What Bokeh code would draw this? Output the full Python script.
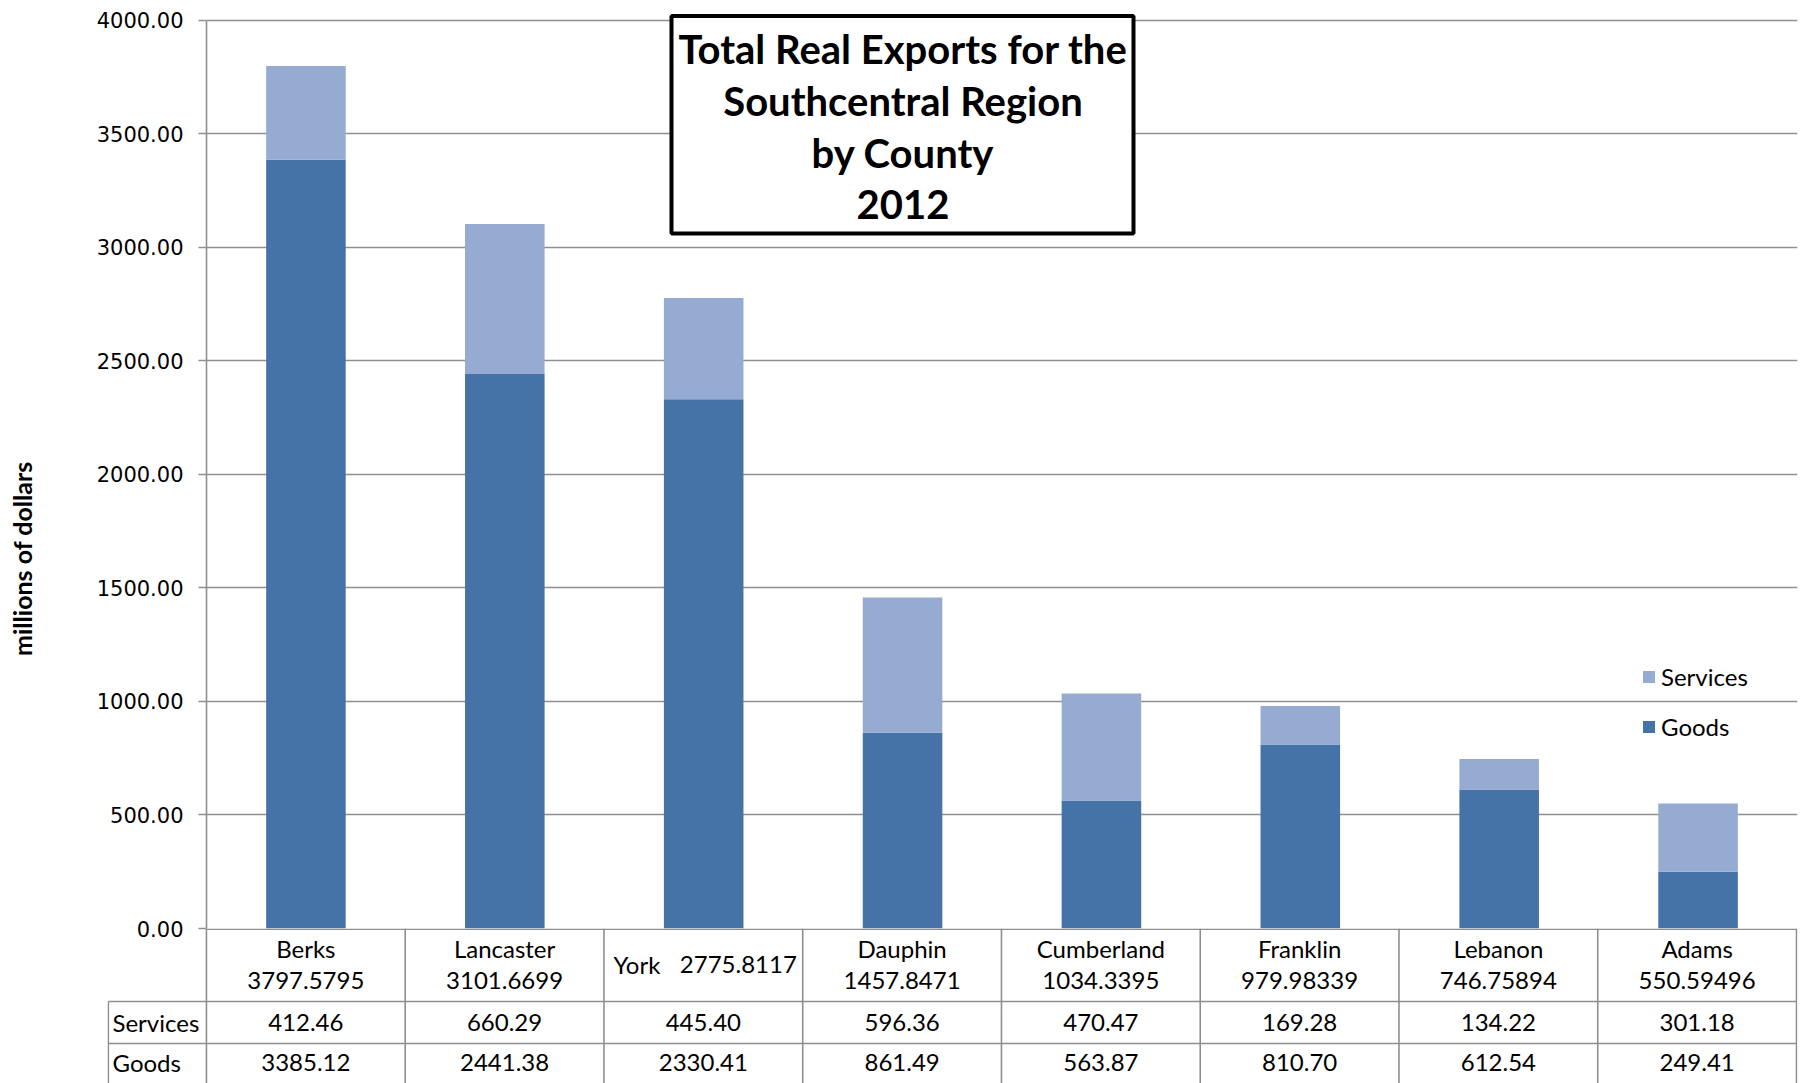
import math
from bokeh.plotting import figure
from bokeh.models import (FactorRange, Range1d, LinearAxis, FixedTicker, Legend, LegendItem,
                          BoxAnnotation, ColumnDataSource, Grid, NumeralTickFormatter)
from bokeh.layouts import row, column
from bokeh.embed import file_html
from bokeh.resources import INLINE
from bokeh.core.properties import value

# ---------------- data ----------------
counties = ["Berks", "Lancaster", "York", "Dauphin", "Cumberland", "Franklin", "Lebanon", "Adams"]
services = [412.46, 660.29, 445.40, 596.36, 470.47, 169.28, 134.22, 301.18]
goods = [3385.12, 2441.38, 2330.41, 861.49, 563.87, 810.70, 612.54, 249.41]
totals = [3797.5795, 3101.6699, 2775.8117, 1457.8471, 1034.3395, 979.98339, 746.75894, 550.59496]
y_ticks = [0, 500, 1000, 1500, 2000, 2500, 3000, 3500, 4000]
series = ["Goods", "Services"]
title_lines = ["Total Real Exports for the", "Southcentral Region", "by County", "2012"]
y_label = "millions of dollars"
one_line_headers = ["York"]

# ---------------- style ----------------
GOODS_C = "#4573A7"
SERV_C = "#95ABD2"
GRID_C = "#8f8f8f"
TXT_FONT = value("Lato")

# ---------------- layout constants (px) ----------------
LEFT_W = 60          # strip holding the y-axis title
PAGE_W = 1812
CHART_H = 928        # page y of the zero line
OVERLAP = 12         # chart canvas reaches below the zero line so "0.00" is not cut
TABLE_H = 155
FRAME_TOP = 13
FRAME_LEFT = 206
FRAME_RIGHT = 1797
Y_SCALE = (CHART_H - 19.6) / 4000.0
Y_END = (CHART_H - FRAME_TOP) / Y_SCALE
CAT_W = (FRAME_RIGHT - FRAME_LEFT) / len(counties)


def base_fig(**kw):
    f = figure(output_backend="svg", toolbar_location=None, outline_line_color=None,
               x_axis_location=None, y_axis_location=None, **kw)
    for g in f.grid:
        g.visible = False
    return f


# ---------------- chart ----------------
src = ColumnDataSource(dict(county=counties, Goods=goods, Services=services))
p = base_fig(x_range=FactorRange(*counties), y_range=Range1d(0, Y_END),
             width=PAGE_W - LEFT_W, height=CHART_H + OVERLAP,
             min_border_left=FRAME_LEFT - LEFT_W, min_border_right=PAGE_W - FRAME_RIGHT,
             min_border_top=FRAME_TOP, min_border_bottom=OVERLAP,
             background_fill_color="white", border_fill_color="white")

ticker = FixedTicker(ticks=y_ticks, minor_ticks=[])
p.add_layout(Grid(dimension=1, ticker=ticker, grid_line_color=GRID_C, grid_line_width=1.6))

rs = p.vbar_stack(series, x="county", width=0.4, source=src,
                  fill_color=[GOODS_C, SERV_C], line_color=None)

yaxis = LinearAxis(ticker=ticker, bounds=(0, 4000),
                   formatter=NumeralTickFormatter(format="0.00"),
                   axis_line_color=GRID_C, axis_line_width=1.6,
                   major_tick_line_color=GRID_C, major_tick_line_width=1.6,
                   major_tick_out=8, major_tick_in=0, minor_tick_line_color=None,
                   major_label_standoff=15, major_label_text_font="DejaVu Sans",
                   major_label_text_font_size="21px", major_label_text_color="black")
p.add_layout(yaxis, "left")


def yv(page_y):
    return (CHART_H - page_y) / Y_SCALE


def xv(page_x):
    return (page_x - FRAME_LEFT) / CAT_W


# title box
box = BoxAnnotation(left=xv(671), right=xv(1133), top=yv(15.5), bottom=yv(233),
                    fill_color="white", fill_alpha=1.0, line_color="black", line_alpha=1.0,
                    line_width=4, level="underlay")
p.add_layout(box)
title_y = [yv(48.5), yv(100.5), yv(152.5), yv(203.5)]
p.text(x=[xv(902.5)] * len(title_lines), y=title_y, text=title_lines, text_align="center",
       text_baseline="middle", text_font=TXT_FONT, text_font_style="bold",
       text_font_size="40px", text_color="black", level="overlay")

legend = Legend(items=[LegendItem(label="Services", renderers=[rs[1]]),
                       LegendItem(label="Goods", renderers=[rs[0]])],
                location=(1641 - FRAME_LEFT, 187), orientation="vertical", padding=0, margin=0,
                spacing=21, glyph_width=15, glyph_height=15, label_height=28, label_standoff=5,
                label_text_font="Lato", label_text_font_size="24px", label_text_color="black",
                border_line_color=None, background_fill_alpha=0)
p.add_layout(legend)

# ---------------- y-axis title strip ----------------
lf = base_fig(x_range=Range1d(0, LEFT_W), y_range=Range1d(0, CHART_H + OVERLAP), width=LEFT_W,
              height=CHART_H + OVERLAP, min_border=0,
              background_fill_color="white", border_fill_color="white")
lf.text(x=[21], y=[CHART_H + OVERLAP - 560], text=[y_label], angle=math.pi / 2,
        text_align="center", text_baseline="middle", text_font=TXT_FONT,
        text_font_style="bold", text_font_size="25px", text_color="black")

# ---------------- data table ----------------
n = len(counties)
TABLE_LEFT = 107
LABEL_W = (FRAME_LEFT - TABLE_LEFT) / CAT_W
t = base_fig(x_range=Range1d(-LABEL_W, n + 0.005), y_range=Range1d(-TABLE_H, 0),
             width=PAGE_W, height=TABLE_H,
             min_border_left=TABLE_LEFT, min_border_right=PAGE_W - FRAME_RIGHT,
             min_border_top=0, min_border_bottom=0, margin=(-OVERLAP, 0, 0, 0),
             background_fill_alpha=0, border_fill_alpha=0)

HEAD_H = 73
ROW_H = 42
lx = -LABEL_W + 0.004
xs = list(range(n + 1))
lw = dict(line_color=GRID_C, line_width=1.6)
t.segment(x0=xs, y0=[0] * len(xs), x1=xs, y1=[-TABLE_H] * len(xs), **lw)
t.segment(x0=[lx], y0=[-HEAD_H], x1=[lx], y1=[-TABLE_H], **lw)
t.segment(x0=[lx, lx, 0], y0=[-HEAD_H, -HEAD_H - ROW_H, -0.8],
          x1=[n, n, n], y1=[-HEAD_H, -HEAD_H - ROW_H, -0.8], **lw)

cx = [i + 0.5 for i in range(n)]
two = [(c, str(tt), x) for c, tt, x in zip(counties, totals, cx) if c not in one_line_headers]
one = [(c, str(tt), x) for c, tt, x in zip(counties, totals, cx) if c in one_line_headers]
tk = dict(text_align="center", text_baseline="middle", text_font=TXT_FONT,
          text_font_size="24px", text_color="black")
t.text(x=[a[2] for a in two], y=[-19.6] * len(two), text=[a[0] for a in two], **tk)
t.text(x=[a[2] for a in two], y=[-52] * len(two), text=[a[1] for a in two], **tk)
# single-line header cell: name and total side by side
t.text(x=[a[2] - 43 / CAT_W for a in one], y=[-36] * len(one), text=[a[0] for a in one],
       **dict(tk, text_align="right"))
t.text(x=[a[2] - 23.5 / CAT_W for a in one], y=[-36] * len(one), text=[a[1] for a in one],
       **dict(tk, text_align="left"))
t.text(x=cx, y=[-93.5] * n, text=[f"{v:.2f}" for v in services], **tk)
t.text(x=cx, y=[-134] * n, text=[f"{v:.2f}" for v in goods], **tk)
t.text(x=[-LABEL_W + 5 / CAT_W] * 2, y=[-93.5, -134], text=["Services", "Goods"],
       **dict(tk, text_align="left"))

layout = column(row(lf, p), t)
open("out.html", "w").write(file_html(layout, INLINE))
